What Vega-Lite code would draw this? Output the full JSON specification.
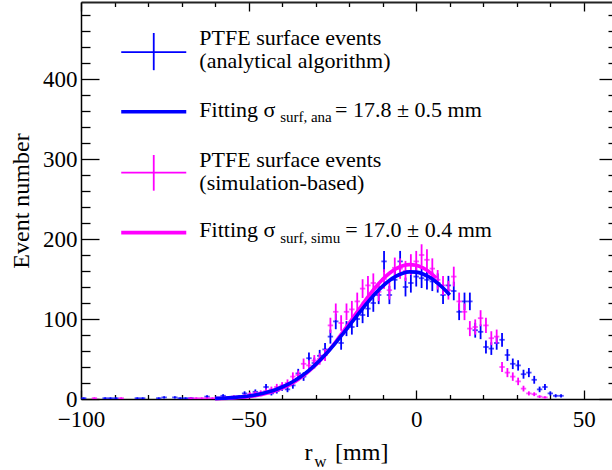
{
  "$schema": "https://vega.github.io/schema/vega-lite/v6.json",
  "width": 531,
  "height": 397,
  "autosize": {"type": "none"},
  "padding": {"left": 81, "top": 2, "right": 0, "bottom": 71},
  "background": "white",
  "config": {
    "view": {"stroke": null},
    "font": "Liberation Serif",
    "axis": {"grid": false}
  },
  "resolve": {"axis": {"x": "independent", "y": "independent"}},
  "datasets": {
    "ana": [
      {"x": -99.2, "n": 1, "lo": 0, "hi": 2}, {"x": -92.8, "n": 1, "lo": 0, "hi": 2}, {"x": -91.2, "n": 1, "lo": 0, "hi": 2},
      {"x": -89.6, "n": 1, "lo": 0, "hi": 2}, {"x": -83.2, "n": 1, "lo": 0, "hi": 2}, {"x": -81.6, "n": 1, "lo": 0, "hi": 2},
      {"x": -76.8, "n": 1, "lo": 0, "hi": 2}, {"x": -75.2, "n": 2, "lo": 0.6, "hi": 3.4}, {"x": -72.0, "n": 2, "lo": 0.6, "hi": 3.4},
      {"x": -70.4, "n": 1, "lo": 0, "hi": 2}, {"x": -68.8, "n": 1, "lo": 0, "hi": 2}, {"x": -67.2, "n": 1, "lo": 0, "hi": 2},
      {"x": -62.4, "n": 3, "lo": 1.3, "hi": 4.7}, {"x": -57.6, "n": 4, "lo": 2, "hi": 6}, {"x": -56.0, "n": 1, "lo": 0, "hi": 2},
      {"x": -54.4, "n": 2, "lo": 0.6, "hi": 3.4}, {"x": -52.8, "n": 3, "lo": 1.3, "hi": 4.7}, {"x": -51.2, "n": 7, "lo": 4.4, "hi": 9.6},
      {"x": -49.6, "n": 4, "lo": 2, "hi": 6}, {"x": -48.0, "n": 9, "lo": 6, "hi": 12}, {"x": -46.4, "n": 6, "lo": 3.6, "hi": 8.4},
      {"x": -44.8, "n": 15, "lo": 11.1, "hi": 18.9}, {"x": -43.2, "n": 7, "lo": 4.4, "hi": 9.6}, {"x": -41.6, "n": 10, "lo": 6.8, "hi": 13.2},
      {"x": -40.0, "n": 14, "lo": 10.3, "hi": 17.7}, {"x": -38.4, "n": 12, "lo": 8.5, "hi": 15.5}, {"x": -36.8, "n": 17, "lo": 12.9, "hi": 21.1},
      {"x": -35.2, "n": 32, "lo": 26.3, "hi": 37.7}, {"x": -33.6, "n": 28, "lo": 22.7, "hi": 33.3}, {"x": -32.0, "n": 51, "lo": 43.9, "hi": 58.1},
      {"x": -30.4, "n": 45, "lo": 38.3, "hi": 51.7}, {"x": -28.8, "n": 54, "lo": 46.6, "hi": 61.4}, {"x": -27.2, "n": 62, "lo": 54.1, "hi": 69.9},
      {"x": -25.6, "n": 78, "lo": 69.2, "hi": 86.8}, {"x": -24.0, "n": 97, "lo": 87.2, "hi": 106.8}, {"x": -22.4, "n": 70, "lo": 61.6, "hi": 78.4},
      {"x": -20.8, "n": 88, "lo": 78.6, "hi": 97.4}, {"x": -19.2, "n": 90, "lo": 80.5, "hi": 99.5}, {"x": -17.6, "n": 100, "lo": 90, "hi": 110},
      {"x": -16.0, "n": 105, "lo": 94.8, "hi": 115.2}, {"x": -14.4, "n": 113, "lo": 102.4, "hi": 123.6}, {"x": -12.8, "n": 120, "lo": 109, "hi": 131},
      {"x": -11.2, "n": 130, "lo": 118.6, "hi": 141.4}, {"x": -9.6, "n": 172, "lo": 158.9, "hi": 185.1}, {"x": -8.0, "n": 130, "lo": 118.6, "hi": 141.4},
      {"x": -6.4, "n": 149, "lo": 136.8, "hi": 161.2}, {"x": -4.8, "n": 172, "lo": 158.9, "hi": 185.1}, {"x": -3.2, "n": 140, "lo": 128.2, "hi": 151.8},
      {"x": -1.6, "n": 145, "lo": 133, "hi": 157}, {"x": 0.0, "n": 153, "lo": 140.6, "hi": 165.4}, {"x": 1.6, "n": 151, "lo": 138.7, "hi": 163.3},
      {"x": 3.2, "n": 149, "lo": 136.8, "hi": 161.2}, {"x": 4.8, "n": 147, "lo": 134.9, "hi": 159.1}, {"x": 6.4, "n": 145, "lo": 133, "hi": 157},
      {"x": 8.0, "n": 130, "lo": 118.6, "hi": 141.4}, {"x": 9.6, "n": 142, "lo": 130.1, "hi": 153.9}, {"x": 11.2, "n": 135, "lo": 123.4, "hi": 146.6},
      {"x": 12.8, "n": 109, "lo": 98.6, "hi": 119.4}, {"x": 14.4, "n": 122, "lo": 111, "hi": 133}, {"x": 16.0, "n": 122, "lo": 111, "hi": 133},
      {"x": 17.6, "n": 86, "lo": 76.7, "hi": 95.3}, {"x": 19.2, "n": 84, "lo": 74.8, "hi": 93.2}, {"x": 20.8, "n": 65, "lo": 56.9, "hi": 73.1},
      {"x": 22.4, "n": 63, "lo": 55.1, "hi": 70.9}, {"x": 24.0, "n": 70, "lo": 61.6, "hi": 78.4}, {"x": 25.6, "n": 74, "lo": 65.4, "hi": 82.6},
      {"x": 27.2, "n": 55, "lo": 47.6, "hi": 62.4}, {"x": 28.8, "n": 44, "lo": 37.4, "hi": 50.6}, {"x": 30.4, "n": 42, "lo": 35.5, "hi": 48.5},
      {"x": 32.0, "n": 31, "lo": 25.4, "hi": 36.6}, {"x": 33.6, "n": 33, "lo": 27.3, "hi": 38.7}, {"x": 35.2, "n": 24, "lo": 19.1, "hi": 28.9},
      {"x": 36.8, "n": 12, "lo": 8.5, "hi": 15.5}, {"x": 38.4, "n": 15, "lo": 11.1, "hi": 18.9}, {"x": 40.0, "n": 7, "lo": 4.4, "hi": 9.6},
      {"x": 41.6, "n": 4, "lo": 2, "hi": 6}, {"x": 43.2, "n": 4, "lo": 2, "hi": 6}
    ],
    "simu": [
      {"x": -96.0, "n": 1, "lo": 0, "hi": 2}, {"x": -88.0, "n": 1, "lo": 0, "hi": 2}, {"x": -67.2, "n": 1, "lo": 0, "hi": 2},
      {"x": -65.6, "n": 1, "lo": 0, "hi": 2}, {"x": -64.0, "n": 1, "lo": 0, "hi": 2}, {"x": -62.4, "n": 1, "lo": 0, "hi": 2},
      {"x": -60.8, "n": 1, "lo": 0, "hi": 2}, {"x": -59.2, "n": 1, "lo": 0, "hi": 2}, {"x": -57.6, "n": 1, "lo": 0, "hi": 2},
      {"x": -56.0, "n": 2, "lo": 0.6, "hi": 3.4}, {"x": -54.4, "n": 3, "lo": 1.3, "hi": 4.7}, {"x": -52.8, "n": 2, "lo": 0.6, "hi": 3.4},
      {"x": -51.2, "n": 4, "lo": 2, "hi": 6}, {"x": -49.6, "n": 6, "lo": 3.6, "hi": 8.4}, {"x": -48.0, "n": 7, "lo": 4.4, "hi": 9.6},
      {"x": -46.4, "n": 8, "lo": 5.2, "hi": 10.8}, {"x": -44.8, "n": 10, "lo": 6.8, "hi": 13.2}, {"x": -43.2, "n": 12, "lo": 8.5, "hi": 15.5},
      {"x": -41.6, "n": 15, "lo": 11.1, "hi": 18.9}, {"x": -40.0, "n": 17, "lo": 12.9, "hi": 21.1}, {"x": -38.4, "n": 20, "lo": 15.5, "hi": 24.5},
      {"x": -36.8, "n": 28, "lo": 22.7, "hi": 33.3}, {"x": -35.2, "n": 30, "lo": 24.5, "hi": 35.5}, {"x": -33.6, "n": 44, "lo": 37.4, "hi": 50.6},
      {"x": -32.0, "n": 42, "lo": 35.5, "hi": 48.5}, {"x": -30.4, "n": 48, "lo": 41.1, "hi": 54.9}, {"x": -28.8, "n": 50, "lo": 42.9, "hi": 57.1},
      {"x": -27.2, "n": 55, "lo": 47.6, "hi": 62.4}, {"x": -25.6, "n": 92, "lo": 82.4, "hi": 101.6}, {"x": -24.0, "n": 109, "lo": 98.6, "hi": 119.4},
      {"x": -22.4, "n": 95, "lo": 85.3, "hi": 104.7}, {"x": -20.8, "n": 109, "lo": 98.6, "hi": 119.4}, {"x": -19.2, "n": 112, "lo": 101.4, "hi": 122.6},
      {"x": -17.6, "n": 122, "lo": 111, "hi": 133}, {"x": -16.0, "n": 138, "lo": 126.3, "hi": 149.7}, {"x": -14.4, "n": 142, "lo": 130.1, "hi": 153.9},
      {"x": -12.8, "n": 145, "lo": 133, "hi": 157}, {"x": -11.2, "n": 134, "lo": 122.4, "hi": 145.6}, {"x": -9.6, "n": 150, "lo": 137.8, "hi": 162.2},
      {"x": -8.0, "n": 136, "lo": 124.3, "hi": 147.7}, {"x": -6.4, "n": 164, "lo": 151.2, "hi": 176.8}, {"x": -4.8, "n": 163, "lo": 150.2, "hi": 175.8},
      {"x": -3.2, "n": 160, "lo": 147.4, "hi": 172.6}, {"x": -1.6, "n": 168, "lo": 155, "hi": 181}, {"x": 0.0, "n": 172, "lo": 158.9, "hi": 185.1},
      {"x": 1.6, "n": 180, "lo": 166.6, "hi": 193.4}, {"x": 3.2, "n": 174, "lo": 160.8, "hi": 187.2}, {"x": 4.8, "n": 163, "lo": 150.2, "hi": 175.8},
      {"x": 6.4, "n": 149, "lo": 136.8, "hi": 161.2}, {"x": 8.0, "n": 142, "lo": 130.1, "hi": 153.9}, {"x": 9.6, "n": 136, "lo": 124.3, "hi": 147.7},
      {"x": 11.2, "n": 153, "lo": 140.6, "hi": 165.4}, {"x": 12.8, "n": 122, "lo": 111, "hi": 133}, {"x": 14.4, "n": 109, "lo": 98.6, "hi": 119.4},
      {"x": 16.0, "n": 88, "lo": 78.6, "hi": 97.4}, {"x": 17.6, "n": 90, "lo": 80.5, "hi": 99.5}, {"x": 19.2, "n": 101, "lo": 91, "hi": 111},
      {"x": 20.8, "n": 92, "lo": 82.4, "hi": 101.6}, {"x": 22.4, "n": 76, "lo": 67.3, "hi": 84.7}, {"x": 24.0, "n": 78, "lo": 69.2, "hi": 86.8},
      {"x": 25.6, "n": 40, "lo": 33.7, "hi": 46.3}, {"x": 27.2, "n": 33, "lo": 27.3, "hi": 38.7}, {"x": 28.8, "n": 28, "lo": 22.7, "hi": 33.3},
      {"x": 30.4, "n": 22, "lo": 17.3, "hi": 26.7}, {"x": 32.0, "n": 13, "lo": 9.4, "hi": 16.6}, {"x": 33.6, "n": 7, "lo": 4.4, "hi": 9.6},
      {"x": 35.2, "n": 6, "lo": 3.6, "hi": 8.4}, {"x": 36.8, "n": 3, "lo": 1.3, "hi": 4.7}, {"x": 38.4, "n": 2, "lo": 0.6, "hi": 3.4}
    ],
    "fitAna": [
      {"x": -60, "y": 0.7}, {"x": -58, "y": 1.0}, {"x": -56, "y": 1.4}, {"x": -54, "y": 2.0}, {"x": -52, "y": 2.8}, {"x": -50, "y": 3.8},
      {"x": -48, "y": 5.1}, {"x": -46, "y": 6.8}, {"x": -44, "y": 9.0}, {"x": -42, "y": 11.6}, {"x": -40, "y": 15.0}, {"x": -38, "y": 19.0},
      {"x": -36, "y": 23.8}, {"x": -34, "y": 29.4}, {"x": -32, "y": 35.9}, {"x": -30, "y": 43.3}, {"x": -28, "y": 51.6}, {"x": -26, "y": 60.7},
      {"x": -24, "y": 70.5}, {"x": -22, "y": 80.9}, {"x": -20, "y": 91.6}, {"x": -18, "y": 102.4}, {"x": -16, "y": 113.1}, {"x": -14, "y": 123.3},
      {"x": -12, "y": 132.7}, {"x": -10, "y": 141.1}, {"x": -8, "y": 148.1}, {"x": -6, "y": 153.5}, {"x": -4, "y": 157.2}, {"x": -2, "y": 158.9},
      {"x": 0, "y": 158.6}, {"x": 2, "y": 156.3}, {"x": 4, "y": 152.1}, {"x": 6, "y": 146.2}, {"x": 8, "y": 138.7}, {"x": 10, "y": 130.0}
    ],
    "fitSimu": [
      {"x": -60, "y": 0.5}, {"x": -58, "y": 0.7}, {"x": -56, "y": 1.0}, {"x": -54, "y": 1.5}, {"x": -52, "y": 2.2}, {"x": -50, "y": 3.0},
      {"x": -48, "y": 4.2}, {"x": -46, "y": 5.7}, {"x": -44, "y": 7.7}, {"x": -42, "y": 10.3}, {"x": -40, "y": 13.5}, {"x": -38, "y": 17.4},
      {"x": -36, "y": 22.2}, {"x": -34, "y": 27.9}, {"x": -32, "y": 34.7}, {"x": -30, "y": 42.4}, {"x": -28, "y": 51.2}, {"x": -26, "y": 61.0},
      {"x": -24, "y": 71.6}, {"x": -22, "y": 82.9}, {"x": -20, "y": 94.7}, {"x": -18, "y": 106.7}, {"x": -16, "y": 118.5}, {"x": -14, "y": 129.9},
      {"x": -12, "y": 140.3}, {"x": -10, "y": 149.6}, {"x": -8, "y": 157.2}, {"x": -6, "y": 163.0}, {"x": -4, "y": 166.6}, {"x": -2, "y": 168.0},
      {"x": 0, "y": 167.1}, {"x": 2, "y": 163.8}, {"x": 4, "y": 158.5}, {"x": 6, "y": 151.2}
    ]
  },
  "layer": [
    {
      "data": {"name": "ana"},
      "mark": {"type": "rule", "color": "#0000ff", "strokeWidth": 1.8},
      "encoding": {
        "x": {"field": "x", "type": "quantitative", "scale": {"domain": [-100, 58.4], "nice": false, "zero": false},
              "axis": {"orient": "top", "values": [-90, -80, -70, -60, -40, -30, -20, -10, 10, 20, 30, 40], "ticks": true, "tickSize": -4.5, "tickWidth": 1.3, "tickColor": "black", "labels": false, "domain": false, "title": null, "grid": false}},
        "y": {"field": "lo", "type": "quantitative", "scale": {"domain": [0, 496.25], "nice": false, "zero": false},
              "axis": {"orient": "right", "offset": 5, "values": [20, 40, 60, 80, 120, 140, 160, 180, 220, 240, 260, 280, 320, 340, 360, 380, 420, 440, 460, 480], "ticks": true, "tickSize": -9, "tickWidth": 1.3, "tickColor": "black", "labels": false, "domain": false, "title": null, "grid": false}},
        "y2": {"field": "hi"}
      }
    },
    {
      "data": {"name": "ana"},
      "mark": {"type": "tick", "orient": "horizontal", "color": "#0000ff", "size": 5.4, "thickness": 1.8},
      "encoding": {
        "x": {"field": "x", "type": "quantitative", "scale": {"domain": [-100, 58.4], "nice": false, "zero": false},
              "axis": {"orient": "bottom", "values": [-100, -50, 0, 50], "ticks": false, "tickSize": 0, "labels": true, "labelFont": "Liberation Serif", "labelFontSize": 23, "labelColor": "black", "labelPadding": 9.5, "labelFlush": false, "labelOverlap": false, "domain": true, "domainColor": "black", "domainWidth": 1.5, "title": null, "grid": false}},
        "y": {"field": "n", "type": "quantitative", "scale": {"domain": [0, 496.25], "nice": false, "zero": false},
              "axis": {"orient": "left", "values": [0, 100, 200, 300, 400], "ticks": false, "tickSize": 0, "labels": true, "labelFont": "Liberation Serif", "labelFontSize": 23, "labelColor": "black", "labelPadding": 4, "labelFlush": false, "labelOverlap": false, "domain": true, "domainColor": "black", "domainWidth": 1.5, "grid": false,
                       "title": "Event number", "titleFont": "Liberation Serif", "titleFontSize": 24, "titleFontWeight": "normal", "titleColor": "black", "titleX": -60, "titleY": 198.5, "titleAngle": 270, "titleAlign": "center", "titleBaseline": "middle"}}
      }
    },
    {
      "data": {"name": "simu"},
      "mark": {"type": "rule", "color": "#ff00ff", "strokeWidth": 1.8},
      "encoding": {
        "x": {"field": "x", "type": "quantitative", "scale": {"domain": [-100, 58.4], "nice": false, "zero": false}, "axis": null},
        "y": {"field": "lo", "type": "quantitative", "scale": {"domain": [0, 496.25], "nice": false, "zero": false}, "axis": null},
        "y2": {"field": "hi"}
      }
    },
    {
      "data": {"name": "simu"},
      "mark": {"type": "tick", "orient": "horizontal", "color": "#ff00ff", "size": 5.4, "thickness": 1.8},
      "encoding": {
        "x": {"field": "x", "type": "quantitative", "scale": {"domain": [-100, 58.4], "nice": false, "zero": false},
              "axis": {"orient": "bottom", "values": [-100, -50, 0, 50], "ticks": true, "tickSize": -9, "tickWidth": 1.3, "tickColor": "black", "labels": false, "domain": false, "title": null, "grid": false}},
        "y": {"field": "n", "type": "quantitative", "scale": {"domain": [0, 496.25], "nice": false, "zero": false},
              "axis": {"orient": "left", "values": [0, 100, 200, 300, 400], "ticks": true, "tickSize": -18, "tickWidth": 1.3, "tickColor": "black", "labels": false, "domain": false, "title": null, "grid": false}}
      }
    },
    {
      "data": {"name": "fitSimu"},
      "mark": {"type": "line", "color": "#ff00ff", "strokeWidth": 3.6, "interpolate": "monotone"},
      "encoding": {
        "x": {"field": "x", "type": "quantitative", "scale": {"domain": [-100, 58.4], "nice": false, "zero": false},
              "axis": {"orient": "bottom", "values": [-90, -80, -70, -60, -40, -30, -20, -10, 10, 20, 30, 40], "ticks": true, "tickSize": -4.5, "tickWidth": 1.3, "tickColor": "black", "labels": false, "domain": false, "title": null, "grid": false}},
        "y": {"field": "y", "type": "quantitative", "scale": {"domain": [0, 496.25], "nice": false, "zero": false},
              "axis": {"orient": "left", "values": [20, 40, 60, 80, 120, 140, 160, 180, 220, 240, 260, 280, 320, 340, 360, 380, 420, 440, 460, 480], "ticks": true, "tickSize": -9, "tickWidth": 1.3, "tickColor": "black", "labels": false, "domain": false, "title": null, "grid": false}}
      }
    },
    {
      "data": {"name": "fitAna"},
      "mark": {"type": "line", "color": "#0000ff", "strokeWidth": 3.6, "interpolate": "monotone"},
      "encoding": {
        "x": {"field": "x", "type": "quantitative", "scale": {"domain": [-100, 58.4], "nice": false, "zero": false},
              "axis": {"orient": "top", "values": [-100, -50, 0, 50], "ticks": true, "tickSize": -9, "tickWidth": 1.3, "tickColor": "black", "labels": false, "domain": true, "domainColor": "#222222", "domainWidth": 1.8, "title": null, "grid": false}},
        "y": {"field": "y", "type": "quantitative", "scale": {"domain": [0, 496.25], "nice": false, "zero": false},
              "axis": {"orient": "right", "offset": 5, "values": [0, 100, 200, 300, 400], "ticks": true, "tickSize": -18, "tickWidth": 1.3, "tickColor": "black", "labels": false, "domain": false, "title": null, "grid": false}}
      }
    },
    {
      "data": {"values": [{}]},
      "mark": {"type": "rule", "color": "#0000ff", "strokeWidth": 1.8},
      "encoding": {"x": {"datum": -88, "type": "quantitative", "scale": {"domain": [-100, 58.4], "nice": false, "zero": false}, "axis": null}, "x2": {"datum": -68.6}, "y": {"datum": 433.7, "type": "quantitative", "scale": {"domain": [0, 496.25], "nice": false, "zero": false}, "axis": null}}
    },
    {
      "data": {"values": [{}]},
      "mark": {"type": "rule", "color": "#0000ff", "strokeWidth": 1.8},
      "encoding": {"x": {"datum": -78.3, "type": "quantitative", "scale": {"domain": [-100, 58.4], "nice": false, "zero": false}, "axis": null}, "y": {"datum": 411, "type": "quantitative", "scale": {"domain": [0, 496.25], "nice": false, "zero": false}, "axis": null}, "y2": {"datum": 457.5}}
    },
    {
      "data": {"values": [{}]},
      "mark": {"type": "rule", "color": "#0000ff", "strokeWidth": 3.6},
      "encoding": {"x": {"datum": -88, "type": "quantitative", "scale": {"domain": [-100, 58.4], "nice": false, "zero": false}, "axis": null}, "x2": {"datum": -68.6}, "y": {"datum": 359, "type": "quantitative", "scale": {"domain": [0, 496.25], "nice": false, "zero": false}, "axis": null}}
    },
    {
      "data": {"values": [{}]},
      "mark": {"type": "rule", "color": "#ff00ff", "strokeWidth": 1.8},
      "encoding": {"x": {"datum": -88, "type": "quantitative", "scale": {"domain": [-100, 58.4], "nice": false, "zero": false}, "axis": null}, "x2": {"datum": -68.6}, "y": {"datum": 283, "type": "quantitative", "scale": {"domain": [0, 496.25], "nice": false, "zero": false}, "axis": null}}
    },
    {
      "data": {"values": [{}]},
      "mark": {"type": "rule", "color": "#ff00ff", "strokeWidth": 1.8},
      "encoding": {"x": {"datum": -78.3, "type": "quantitative", "scale": {"domain": [-100, 58.4], "nice": false, "zero": false}, "axis": null}, "y": {"datum": 260.4, "type": "quantitative", "scale": {"domain": [0, 496.25], "nice": false, "zero": false}, "axis": null}, "y2": {"datum": 305}}
    },
    {
      "data": {"values": [{}]},
      "mark": {"type": "rule", "color": "#ff00ff", "strokeWidth": 3.6},
      "encoding": {"x": {"datum": -88, "type": "quantitative", "scale": {"domain": [-100, 58.4], "nice": false, "zero": false}, "axis": null}, "x2": {"datum": -68.6}, "y": {"datum": 208, "type": "quantitative", "scale": {"domain": [0, 496.25], "nice": false, "zero": false}, "axis": null}}
    },
    {
      "data": {"values": [{}]},
      "mark": {"type": "text", "font": "Liberation Serif", "fontSize": 22, "color": "black", "align": "left", "baseline": "alphabetic", "lineHeight": 23.3, "text": ["PTFE surface events", "(analytical algorithm)"]},
      "encoding": {"x": {"datum": -64.7, "type": "quantitative", "scale": {"domain": [-100, 58.4], "nice": false, "zero": false}, "axis": null}, "y": {"datum": 442.5, "type": "quantitative", "scale": {"domain": [0, 496.25], "nice": false, "zero": false}, "axis": null}}
    },
    {
      "data": {"values": [{}]},
      "mark": {"type": "text", "font": "Liberation Serif", "fontSize": 22, "color": "black", "align": "left", "baseline": "alphabetic", "text": "Fitting σ"},
      "encoding": {"x": {"datum": -64.7, "type": "quantitative", "scale": {"domain": [-100, 58.4], "nice": false, "zero": false}, "axis": null}, "y": {"datum": 352.9, "type": "quantitative", "scale": {"domain": [0, 496.25], "nice": false, "zero": false}, "axis": null}}
    },
    {
      "data": {"values": [{}]},
      "mark": {"type": "text", "font": "Liberation Serif", "fontSize": 15, "color": "black", "align": "left", "baseline": "alphabetic", "text": "surf, ana"},
      "encoding": {"x": {"datum": -40.6, "type": "quantitative", "scale": {"domain": [-100, 58.4], "nice": false, "zero": false}, "axis": null}, "y": {"datum": 346.6, "type": "quantitative", "scale": {"domain": [0, 496.25], "nice": false, "zero": false}, "axis": null}}
    },
    {
      "data": {"values": [{}]},
      "mark": {"type": "text", "font": "Liberation Serif", "fontSize": 22, "color": "black", "align": "left", "baseline": "alphabetic", "text": "= 17.8 ± 0.5 mm"},
      "encoding": {"x": {"datum": -24.2, "type": "quantitative", "scale": {"domain": [-100, 58.4], "nice": false, "zero": false}, "axis": null}, "y": {"datum": 352.9, "type": "quantitative", "scale": {"domain": [0, 496.25], "nice": false, "zero": false}, "axis": null}}
    },
    {
      "data": {"values": [{}]},
      "mark": {"type": "text", "font": "Liberation Serif", "fontSize": 22, "color": "black", "align": "left", "baseline": "alphabetic", "lineHeight": 23, "text": ["PTFE surface events", "(simulation-based)"]},
      "encoding": {"x": {"datum": -64.7, "type": "quantitative", "scale": {"domain": [-100, 58.4], "nice": false, "zero": false}, "axis": null}, "y": {"datum": 290.4, "type": "quantitative", "scale": {"domain": [0, 496.25], "nice": false, "zero": false}, "axis": null}}
    },
    {
      "data": {"values": [{}]},
      "mark": {"type": "text", "font": "Liberation Serif", "fontSize": 22, "color": "black", "align": "left", "baseline": "alphabetic", "text": "Fitting σ"},
      "encoding": {"x": {"datum": -64.7, "type": "quantitative", "scale": {"domain": [-100, 58.4], "nice": false, "zero": false}, "axis": null}, "y": {"datum": 202.9, "type": "quantitative", "scale": {"domain": [0, 496.25], "nice": false, "zero": false}, "axis": null}}
    },
    {
      "data": {"values": [{}]},
      "mark": {"type": "text", "font": "Liberation Serif", "fontSize": 15, "color": "black", "align": "left", "baseline": "alphabetic", "text": "surf, simu"},
      "encoding": {"x": {"datum": -40.6, "type": "quantitative", "scale": {"domain": [-100, 58.4], "nice": false, "zero": false}, "axis": null}, "y": {"datum": 195.4, "type": "quantitative", "scale": {"domain": [0, 496.25], "nice": false, "zero": false}, "axis": null}}
    },
    {
      "data": {"values": [{}]},
      "mark": {"type": "text", "font": "Liberation Serif", "fontSize": 22, "color": "black", "align": "left", "baseline": "alphabetic", "text": "= 17.0 ± 0.4 mm"},
      "encoding": {"x": {"datum": -21.2, "type": "quantitative", "scale": {"domain": [-100, 58.4], "nice": false, "zero": false}, "axis": null}, "y": {"datum": 202.9, "type": "quantitative", "scale": {"domain": [0, 496.25], "nice": false, "zero": false}, "axis": null}}
    },
    {
      "data": {"values": [{}]},
      "mark": {"type": "text", "font": "Liberation Serif", "fontSize": 24, "color": "black", "align": "left", "baseline": "alphabetic", "text": "r"},
      "encoding": {"x": {"datum": -33.3, "type": "quantitative", "scale": {"domain": [-100, 58.4], "nice": false, "zero": false}, "axis": null}, "y": {"datum": -76.25, "type": "quantitative", "scale": {"domain": [0, 496.25], "nice": false, "zero": false}, "axis": null}}
    },
    {
      "data": {"values": [{}]},
      "mark": {"type": "text", "font": "Liberation Serif", "fontSize": 17, "color": "black", "align": "left", "baseline": "alphabetic", "text": "w"},
      "encoding": {"x": {"datum": -30.4, "type": "quantitative", "scale": {"domain": [-100, 58.4], "nice": false, "zero": false}, "axis": null}, "y": {"datum": -85, "type": "quantitative", "scale": {"domain": [0, 496.25], "nice": false, "zero": false}, "axis": null}}
    },
    {
      "data": {"values": [{}]},
      "mark": {"type": "text", "font": "Liberation Serif", "fontSize": 24, "color": "black", "align": "left", "baseline": "alphabetic", "text": "[mm]"},
      "encoding": {"x": {"datum": -24.2, "type": "quantitative", "scale": {"domain": [-100, 58.4], "nice": false, "zero": false}, "axis": null}, "y": {"datum": -76.25, "type": "quantitative", "scale": {"domain": [0, 496.25], "nice": false, "zero": false}, "axis": null}}
    }
  ]
}
